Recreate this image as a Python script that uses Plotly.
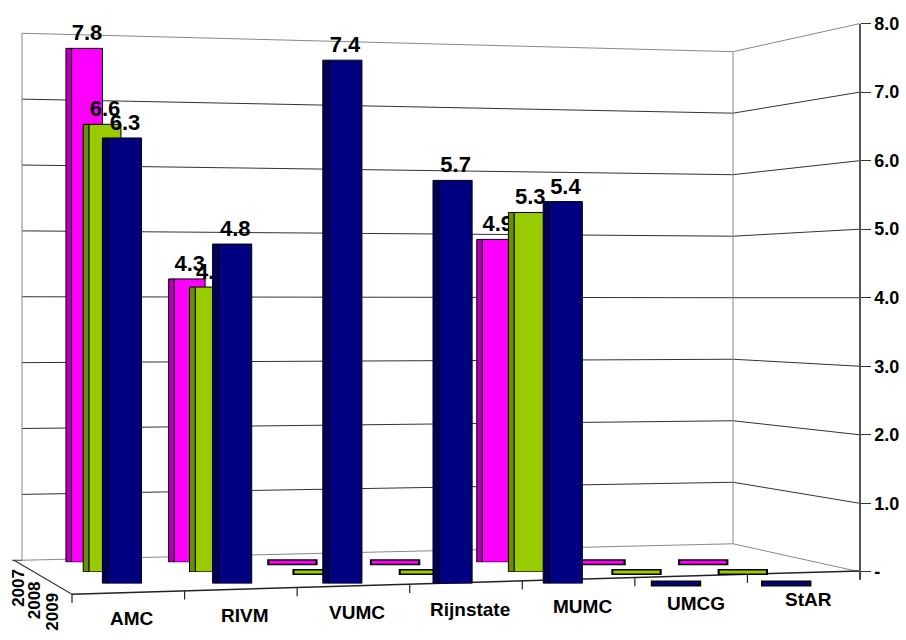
import plotly.graph_objects as go

# ---------------- data ----------------
categories = ["AMC", "RIVM", "VUMC", "Rijnstate", "MUMC", "UMCG", "StAR"]
years = ["2007", "2008", "2009"]
values_2007 = [7.8, 4.3, 0, 0, 4.9, 0, 0]
values_2008 = [6.6, 4.2, 0, 0, 5.3, 0, 0]
values_2009 = [6.3, 4.8, 7.4, 5.7, 5.4, 0, 0]
value_ticks = [0, 1, 2, 3, 4, 5, 6, 7, 8]
value_tick_labels = ["-", "1.0", "2.0", "3.0", "4.0", "5.0", "6.0", "7.0", "8.0"]

# ---------------- styling / layout geometry ----------------
W, H = 906, 640
FONT = "Arial, Liberation Sans, sans-serif"


def px(x):
    return x / W


def py(y):
    return 1 - y / H


# depth rows: back (2007) -> front (2009); each row gets its own axes pair
rows = [
    dict(values=values_2007, face="#FF00FF", side="#B400B4", c0=87, step=102.7, y0=570, scale=68),
    dict(values=values_2008, face="#99CC00", side="#6B8F00", c0=105, step=106.3, y0=580, scale=70),
    dict(values=values_2009, face="#000080", side="#00005A", c0=125, step=110.2, y0=592, scale=73),
]
BAR_W = 0.30
SIDE_W = 0.055

fig = go.Figure()
layout_axes = {}
for k, r in enumerate(rows, start=1):
    xa = "x" if k == 1 else f"x{k}"
    ya = "y" if k == 1 else f"y{k}"
    vals = r["values"]
    # side (darker) face
    fig.add_trace(go.Bar(
        x=categories, y=vals, xaxis=xa, yaxis=ya,
        offset=-BAR_W / 2 - SIDE_W, width=SIDE_W,
        marker=dict(color=r["side"], line=dict(color="black", width=1)),
        hoverinfo="skip", showlegend=False, cliponaxis=False,
    ))
    # front face with value labels
    fig.add_trace(go.Bar(
        x=categories, y=vals, xaxis=xa, yaxis=ya,
        offset=-BAR_W / 2, width=BAR_W,
        marker=dict(color=r["face"], line=dict(color="black", width=1)),
        text=[f"{v:.1f}" if v else "" for v in vals],
        textposition="outside", constraintext="none",
        textfont=dict(family=FONT, size=22, color="black", weight="bold"),
        name=years[k - 1], showlegend=False, cliponaxis=False,
    ))
    # flat slabs for zero values
    zx = [c for c, v in zip(categories, vals) if v == 0]
    zy = [v for v in vals if v == 0]
    fig.add_trace(go.Scatter(
        x=zx, y=zy, xaxis=xa, yaxis=ya, mode="markers",
        marker=dict(symbol="line-ew", size=36, line=dict(color="black", width=6)),
        hoverinfo="skip", showlegend=False, cliponaxis=False,
    ))
    fig.add_trace(go.Scatter(
        x=zx, y=zy, xaxis=xa, yaxis=ya, mode="markers",
        marker=dict(symbol="line-ew", size=33, line=dict(color=r["face"], width=3)),
        hoverinfo="skip", showlegend=False, cliponaxis=False,
    ))
    kx = "xaxis" if k == 1 else f"xaxis{k}"
    ky = "yaxis" if k == 1 else f"yaxis{k}"
    layout_axes[kx] = dict(
        type="category", categoryorder="array", categoryarray=categories,
        range=[-0.5, len(categories) - 0.5],
        domain=[px(r["c0"] - 0.5 * r["step"]), px(r["c0"] + (len(categories) - 0.5) * r["step"])],
        visible=False, anchor=ya, fixedrange=True,
    )
    layout_axes[ky] = dict(
        range=[0, 8],
        domain=[py(r["y0"]), py(r["y0"] - 8 * r["scale"])],
        visible=False, anchor=xa, fixedrange=True,
    )

# labelled value axis on the right (front-right corner)
fig.add_trace(go.Scatter(x=[None], y=[None], xaxis="x4", yaxis="y4",
                         mode="markers", hoverinfo="skip", showlegend=False))
layout_axes["xaxis4"] = dict(visible=False, range=[0, 1], domain=[0, 1], anchor="y4")
layout_axes["yaxis4"] = dict(
    range=[0, 8], domain=[py(580), py(14)], side="right", anchor="free",
    position=px(860), tickmode="array", tickvals=value_ticks, ticktext=value_tick_labels,
    ticks="outside", ticklen=10, tickcolor="#333333", showline=True, linecolor="#555555",
    linewidth=1.5, showgrid=False, zeroline=False,
    tickfont=dict(family=FONT, size=18, color="black", weight="bold"),
)

# ---------------- walls, gridlines, floor ----------------
shapes = []


def seg(x0, y0, x1, y1, color="#333333", width=1):
    shapes.append(dict(type="line", xref="paper", yref="paper",
                       x0=px(x0), y0=py(y0), x1=px(x1), y1=py(y1),
                       line=dict(color=color, width=width), layer="below"))


BW_L, BW_R, AX_X = 22, 733, 860
for v in value_ticks:
    yl = 568 - 68 * v
    yr = 551 - 63.5 * v
    ya = 580 - 70.75 * v
    col = "#888888" if v in (0, 8) else "#333333"
    seg(BW_L, yl, BW_R, yr, col)
    seg(BW_R, yr, AX_X, ya, col)
seg(BW_L, 568 - 68 * 8, BW_L, 568, "#888888")
seg(BW_R, 551 - 63.5 * 8, BW_R, 551, "#888888")
seg(12, 568, BW_L, 568, "#333333")
seg(14, 568, 72, 603, "#333333", 1.2)
seg(72, 603, AX_X, 579, "#222222", 1.5)
seg(AX_X, 579, AX_X, 588, "#555555", 1.5)
n = len(categories)
for i in range(n + 1):
    tx = 72 + (AX_X - 72) * i / n
    ty = 603 + (579 - 603) * i / n
    seg(tx, ty, tx, ty + 9, "#222222", 1.2)

# ---------------- text annotations ----------------
annotations = []
for i, c in enumerate(categories):
    cx = 132 + 112.7 * i
    cy = 628 - (cx - 132) * 19 / 676
    annotations.append(dict(x=px(cx), y=py(cy), xref="paper", yref="paper", text=c,
                            showarrow=False, xanchor="center", yanchor="middle",
                            font=dict(family=FONT, size=19, color="black", weight="bold")))
for j, yr_lbl in enumerate(years):
    annotations.append(dict(x=px(18.5 + 16.8 * j), y=py(597 + 12 * j), xref="paper", yref="paper",
                            text=yr_lbl, textangle=-90, showarrow=False,
                            xanchor="center", yanchor="middle",
                            font=dict(family=FONT, size=17, color="black", weight="bold")))

fig.update_layout(
    width=W, height=H, margin=dict(l=0, r=0, t=0, b=0),
    paper_bgcolor="white", plot_bgcolor="rgba(0,0,0,0)",
    barmode="overlay", showlegend=False,
    shapes=shapes, annotations=annotations,
    **layout_axes,
)

fig.write_html("out.html")
